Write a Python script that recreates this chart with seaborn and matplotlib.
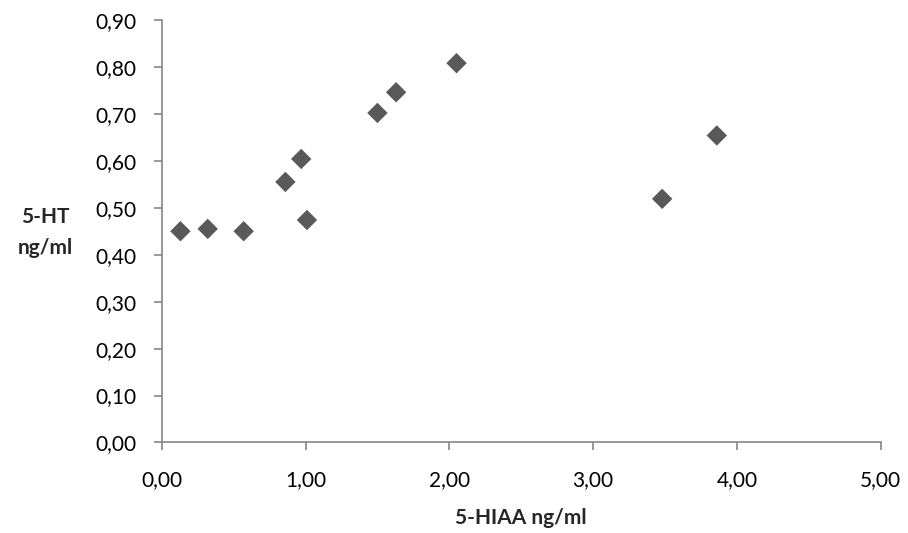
import numpy as np
import pandas as pd
import matplotlib
matplotlib.use("Agg")
import matplotlib.pyplot as plt
import seaborn as sns
from matplotlib.ticker import FuncFormatter

# data
hiaa = [0.13, 0.32, 0.57, 0.86, 0.97, 1.01, 1.50, 1.63, 2.05, 3.48, 3.86]
ht = [0.450, 0.455, 0.450, 0.555, 0.604, 0.474, 0.702, 0.746, 0.808, 0.519, 0.654]

df = pd.DataFrame({"5-HIAA": hiaa, "5-HT": ht})

sns.set_style("white")
plt.rcParams['font.family'] = ['Lato', 'DejaVu Sans']

fig = plt.figure(figsize=(9.08, 5.33), dpi=100)
ax = fig.add_axes([0.1781, 0.1698, 0.7919, 0.7927])

sns.scatterplot(data=df, x="5-HIAA", y="5-HT", marker="D", s=108,
                color="#595959", edgecolor="none", ax=ax)

ax.set_xlim(0, 5)
ax.set_ylim(0, 0.9)
ax.set_xticks(np.arange(0, 5.01, 1))
ax.set_yticks(np.arange(0, 0.91, 0.1))
fmt = FuncFormatter(lambda v, p: f"{v:.2f}".replace(".", ","))
ax.xaxis.set_major_formatter(fmt)
ax.yaxis.set_major_formatter(fmt)

sns.despine(ax=ax)
for sp in ("left", "bottom"):
    ax.spines[sp].set_color("#868686")
    ax.spines[sp].set_linewidth(1.2)
ax.tick_params(axis="both", direction="out", length=6, width=1.2, color="#868686",
               labelsize=15, labelcolor="black", bottom=True, left=True)
ax.tick_params(axis="y", pad=12)
ax.tick_params(axis="x", pad=14)

ax.set_xlabel("5-HIAA ng/ml", fontsize=15, fontweight="bold", labelpad=13)
ax.set_ylabel("")
fig.text(0.05, 0.564, "5-HT\nng/ml", fontsize=15, fontweight="bold",
         ha="center", va="center", linespacing=1.7)

fig.savefig("out.png", dpi=100)
